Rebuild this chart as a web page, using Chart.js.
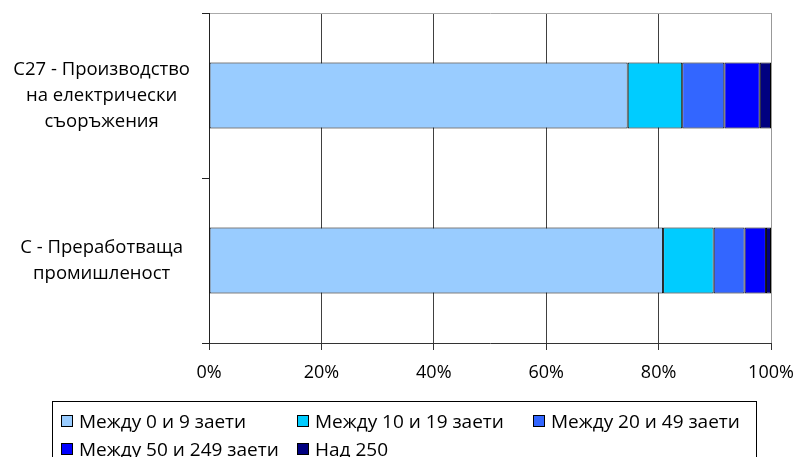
<!DOCTYPE html>
<html>
<head>
<meta charset="utf-8">
<script src="https://cdn.jsdelivr.net/npm/chart.js@4"></script>
<style>
    body { margin: 0; background: #fff; }
    #wrap { position: relative; width: 797px; height: 457px; overflow: hidden; }
    #legend {
        position: absolute; left: 52px; top: 401px; width: 705px; height: 70px;
        border: 1px solid #000; box-sizing: border-box;
        font-family: "Open Sans", sans-serif; font-size: 19px; color: #000;
        display: grid; grid-template-columns: 236px 236px 236px;
        grid-auto-rows: 28px; padding: 5px 0 0 8px;
    }
    .item { display: flex; align-items: center; white-space: nowrap; }
    .box { width: 10px; height: 10px; border: 1px solid #000; margin-right: 6px; }
</style>
</head>
<body>
<div id="wrap">
    <canvas id="chart" width="797" height="457"></canvas>
    <div id="legend"></div>
</div>
<script>
// ---------- DATA ----------
const categories = [
    ["C27 - Производство", "на електрически", "съоръжения"],
    ["C - Преработваща", "промишленост"]
];
const seriesNames = ["Между 0 и 9 заети", "Между 10 и 19 заети", "Между 20 и 49 заети", "Между 50 и 249 заети", "Над 250"];
const band0to9 = [74.5, 80.8];
const band10to19 = [9.7, 9.0];
const band20to49 = [7.5, 5.5];
const band50to249 = [6.3, 3.8];
const bandOver250 = [2.0, 0.9];
const xTicks = [0, 20, 40, 60, 80, 100];

const colors = ["#99CCFF", "#00CCFF", "#3366FF", "#0000FF", "#000080"];
const values = [band0to9, band10to19, band20to49, band50to249, bandOver250];

const datasets = seriesNames.map((name, i) => ({
    label: name,
    data: values[i],
    backgroundColor: colors[i],
    borderColor: "#000",
    borderWidth: 1,
    borderSkipped: false,
    categoryPercentage: 1,
    barPercentage: 0.4
}));

// ---------- CHART ----------
new Chart(document.getElementById("chart"), {
    type: "bar",
    data: { labels: categories, datasets: datasets },
    options: {
        indexAxis: "y",
        responsive: false,
        animation: false,
        layout: { padding: { top: 13, right: 26, left: 0, bottom: 0 } },
        plugins: { legend: { display: false }, tooltip: { enabled: false } },
        scales: {
            x: {
                stacked: true,
                min: 0,
                max: 100,
                afterFit: s => { s.height = 114; s.paddingLeft = 0; s.paddingRight = 0; },
                afterBuildTicks: s => { s.ticks = xTicks.map(v => ({ value: v })); },
                border: { color: "#333", width: 1 },
                grid: {
                    color: ctx => ctx.index === xTicks.length - 1 ? "#999" : "#404040",
                    tickColor: "#333",
                    tickLength: 7
                },
                ticks: {
                    padding: 12,
                    color: "#000",
                    font: { family: "Open Sans", size: 18 },
                    callback: v => v + "%"
                }
            },
            y: {
                stacked: true,
                afterFit: s => { s.width = 209; s.paddingTop = 0; s.paddingBottom = 0; },
                border: { color: "#222", width: 1 },
                grid: {
                    offset: true,
                    color: ctx => ctx.index === 0 ? "#aaa" : "rgba(0,0,0,0)",
                    tickColor: "#222",
                    tickLength: 7
                },
                ticks: {
                    crossAlign: "center",
                    padding: 12,
                    color: "#000",
                    font: { family: "Open Sans", size: 18.5, lineHeight: 1.4 }
                }
            }
        }
    }
});

// ---------- LEGEND ----------
const legend = document.getElementById("legend");
seriesNames.forEach((name, i) => {
    const item = document.createElement("div");
    item.className = "item";
    item.innerHTML = `<span class="box" style="background:${colors[i]}"></span>${name}`;
    legend.appendChild(item);
});
</script>
</body>
</html>
